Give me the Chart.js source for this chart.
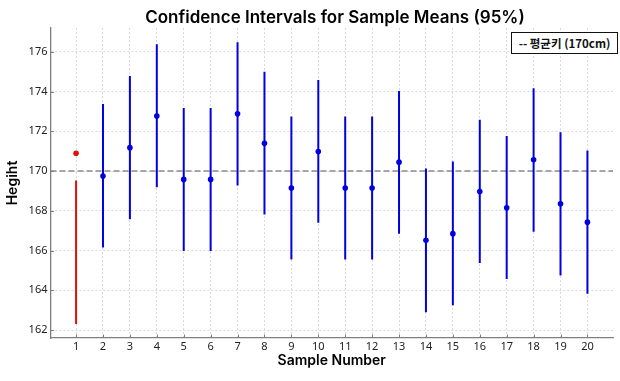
<!DOCTYPE html>
<html>
<head>
<meta charset="utf-8">
<script src="https://cdn.jsdelivr.net/npm/chart.js@4"></script>
<style>
  html, body { margin: 0; padding: 0; background: #fff; }
  #wrap { position: relative; width: 620px; height: 381px; }
  #title {
    position: absolute; left: 135px; top: 6px; width: 400px; height: 22px;
    font-family: Inter, "Noto Sans", sans-serif; font-weight: 600; font-size: 17px;
    line-height: 22px; text-align: center; color: #000; white-space: nowrap;
  }
  #legend {
    position: absolute; left: 511px; top: 32px; width: 105px; height: 20px;
    border: 1px solid #111; background: #fff;
    font-family: "Noto Sans CJK KR", "Noto Sans", sans-serif; font-weight: 600;
    font-size: 11.5px; line-height: 20px; text-align: center; color: #111;
  }
</style>
</head>
<body>
<div id="wrap">
  <canvas id="c" width="620" height="381"></canvas>
  <div id="title">Confidence Intervals for Sample Means (95%)</div>
  <div id="legend">-- 평균키 (170cm)</div>
</div>
<script>
const samples = [1,2,3,4,5,6,7,8,9,10,11,12,13,14,15,16,17,18,19,20];
const means  = [170.90,169.75,171.18,172.77,169.58,169.58,172.88,171.40,169.15,170.98,169.15,169.15,170.45,166.52,166.85,168.97,168.15,170.57,168.35,167.43];
const lowers = [162.30,166.15,167.58,169.18,165.98,165.98,169.27,167.82,165.55,167.40,165.55,165.55,166.85,162.90,163.25,165.37,164.57,166.95,164.75,163.83];
const uppers = [169.52,173.37,174.78,176.38,173.17,173.17,176.48,175.00,172.75,174.58,172.75,172.75,174.03,170.13,170.48,172.58,171.77,174.17,171.95,171.03];
const popMean = 170;
const xTicks = samples;
const yTicks = [162,164,166,168,170,172,174,176];

const colorFor = i => (lowers[i] <= popMean && uppers[i] >= popMean) ? '#0000e0' : '#e01010';
const colors = samples.map((s, i) => colorFor(i));

const FONT = "'Noto Sans', sans-serif";
const SPINE = '#7f7f7f';

const inwardTicks = {
  id: 'inwardTicks',
  afterDatasetsDraw(chart) {
    const {ctx, chartArea, scales} = chart;
    ctx.save();
    ctx.strokeStyle = SPINE;
    ctx.lineWidth = 1;
    xTicks.forEach(v => {
      const px = Math.round(scales.x.getPixelForValue(v)) + 0.5;
      ctx.beginPath(); ctx.moveTo(px, chartArea.bottom); ctx.lineTo(px, chartArea.bottom - 3.5); ctx.stroke();
    });
    yTicks.forEach(v => {
      const py = Math.round(scales.y.getPixelForValue(v)) + 0.5;
      ctx.beginPath(); ctx.moveTo(chartArea.left, py); ctx.lineTo(chartArea.left + 3.5, py); ctx.stroke();
    });
    ctx.restore();
  }
};

new Chart(document.getElementById('c'), {
  type: 'bar',
  data: {
    datasets: [
      {
        type: 'line',
        label: 'pop',
        data: [{x: 0.05, y: popMean}, {x: 20.95, y: popMean}],
        borderColor: '#8c8c8c',
        borderWidth: 1.5,
        borderDash: [6, 3],
        pointRadius: 0,
        order: 3
      },
      {
        type: 'bar',
        label: 'ci',
        data: samples.map((s, i) => ({x: s, y: [lowers[i], uppers[i]]})),
        backgroundColor: colors,
        borderWidth: 0,
        inflateAmount: 0,
        barThickness: 2,
        order: 2
      },
      {
        type: 'scatter',
        label: 'mean',
        data: samples.map((s, i) => ({x: s, y: means[i]})),
        pointBackgroundColor: colors,
        pointBorderWidth: 0,
        pointRadius: 2.8,
        order: 1
      }
    ]
  },
  options: {
    responsive: false,
    animation: false,
    devicePixelRatio: 1,
    layout: { padding: { left: 0, right: 7, top: 28, bottom: 0 } },
    plugins: {
      legend: { display: false },
      tooltip: { enabled: false },
      title: { display: false }
    },
    scales: {
      x: {
        type: 'linear',
        offset: false,
        min: 0.05, max: 20.95,
        afterBuildTicks: s => { s.ticks = xTicks.map(v => ({value: v})); },
        afterFit: s => { s.height = 43; },
        grid: { color: '#d0d0d0', lineWidth: 0.8, drawTicks: false, offset: false },
        border: { display: true, color: SPINE, width: 1.3, dash: [2, 2] },
        ticks: { color: '#222', font: { family: FONT, size: 11 }, padding: 2, maxRotation: 0, autoSkip: false,
                 callback: v => String(v) },
        title: { display: true, text: 'Sample Number', color: '#000',
                 font: { family: "Inter, 'Noto Sans', sans-serif", size: 14, weight: '600' }, padding: { top: 0, bottom: 12 } }
      },
      y: {
        type: 'linear',
        min: 161.6, max: 177.2,
        afterBuildTicks: s => { s.ticks = yTicks.map(v => ({value: v})); },
        afterFit: s => { s.width = 50.5; },
        grid: { color: '#d0d0d0', lineWidth: 0.8, drawTicks: false },
        border: { display: true, color: SPINE, width: 1.3, dash: [2, 2] },
        ticks: { color: '#222', font: { family: FONT, size: 11 }, padding: 3,
                 callback: v => String(v) },
        title: { display: true, text: 'Hegiht', color: '#000',
                 font: { family: "Inter, 'Noto Sans', sans-serif", size: 14, weight: '600' }, padding: { top: 4.6, bottom: 0 } }
      }
    }
  },
  plugins: [inwardTicks]
});
</script>
</body>
</html>
